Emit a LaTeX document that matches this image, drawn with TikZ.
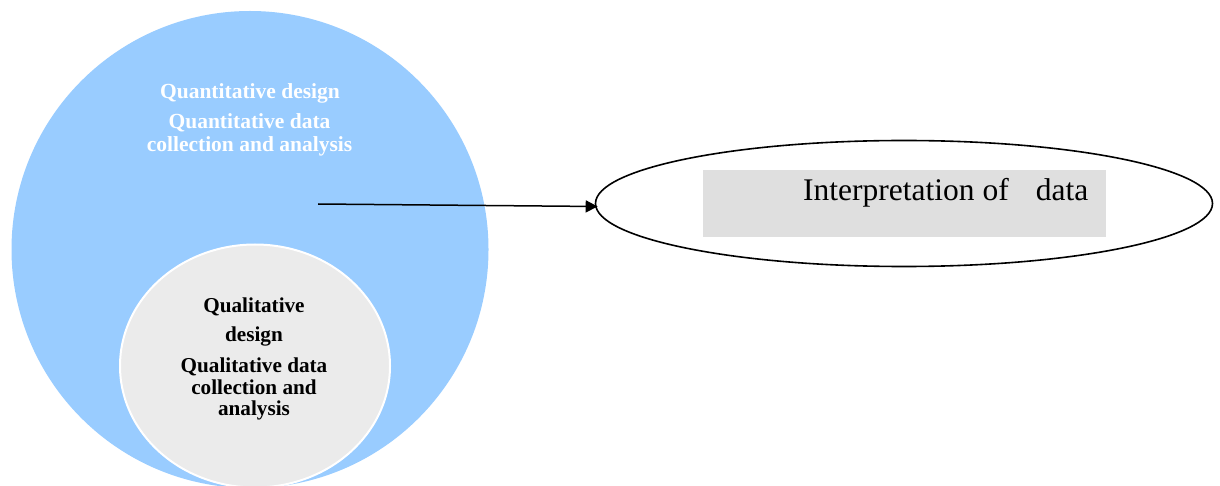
\documentclass[tikz,border=0pt]{standalone}
\usepackage{fontspec}
\setmainfont{Liberation Serif}
\usetikzlibrary{shapes.geometric,arrows.meta}
\definecolor{quanblue}{HTML}{99CCFF}
\definecolor{qualgray}{HTML}{EBEBEB}
\definecolor{boxgray}{HTML}{DFDFDF}
\tikzset{
  quanline/.style={anchor=base, inner sep=0pt, text=white, font=\fontsize{21.5}{23}\selectfont\bfseries},
  qualline/.style={anchor=base, inner sep=0pt, text=black, font=\fontsize{21.2}{22}\selectfont\bfseries},
  conn/.style={line width=1.5pt, -{Triangle[length=12pt,width=12pt]}}
}
\begin{document}
\begin{tikzpicture}[x=1pt,y=-1pt]
\useasboundingbox (0,0) rectangle (1220,486);
% big circle
\node[circle, fill=quanblue, minimum size=477pt, inner sep=0pt] (quan) at (250,249.5) {};
% inner ellipse
\node[ellipse, fill=qualgray, draw=white, line width=2pt, minimum width=270pt, minimum height=243pt, inner sep=0pt] (qual) at (255,366) {};
% quantitative text
\node[quanline] (q1) at (250,99) {Quantitative design};
\node[quanline] (q2) at (249.5,129) {Quantitative data};
\node[quanline] (q3) at (249.5,152) {collection and analysis};
% qualitative text
\node[qualline] (l1) at (254,312) {Qualitative};
\node[qualline] (l2) at (254,341) {design};
\node[qualline] (l3) at (254,372) {Qualitative data};
\node[qualline] (l4) at (254,394) {collection and};
\node[qualline] (l5) at (254,415) {analysis};
% right ellipse
\node[ellipse, draw=black, line width=1.6pt, minimum width=617pt, minimum height=126pt, inner sep=0pt] (interp) at (904,203.5) {};
\node[fill=boxgray, minimum width=403pt, minimum height=67pt, inner sep=0pt] (box) at (904.5,203.5) {};
\node[anchor=base west, inner sep=0pt, font=\fontsize{31.5}{33}\selectfont] (txt) at (803,201) {Interpretation of\hspace{27pt}data};
% arrow
\coordinate (start) at (318,204);
\draw[conn] (start) -- ([xshift=3pt,yshift=-3pt]interp.west);
\end{tikzpicture}
\end{document}
